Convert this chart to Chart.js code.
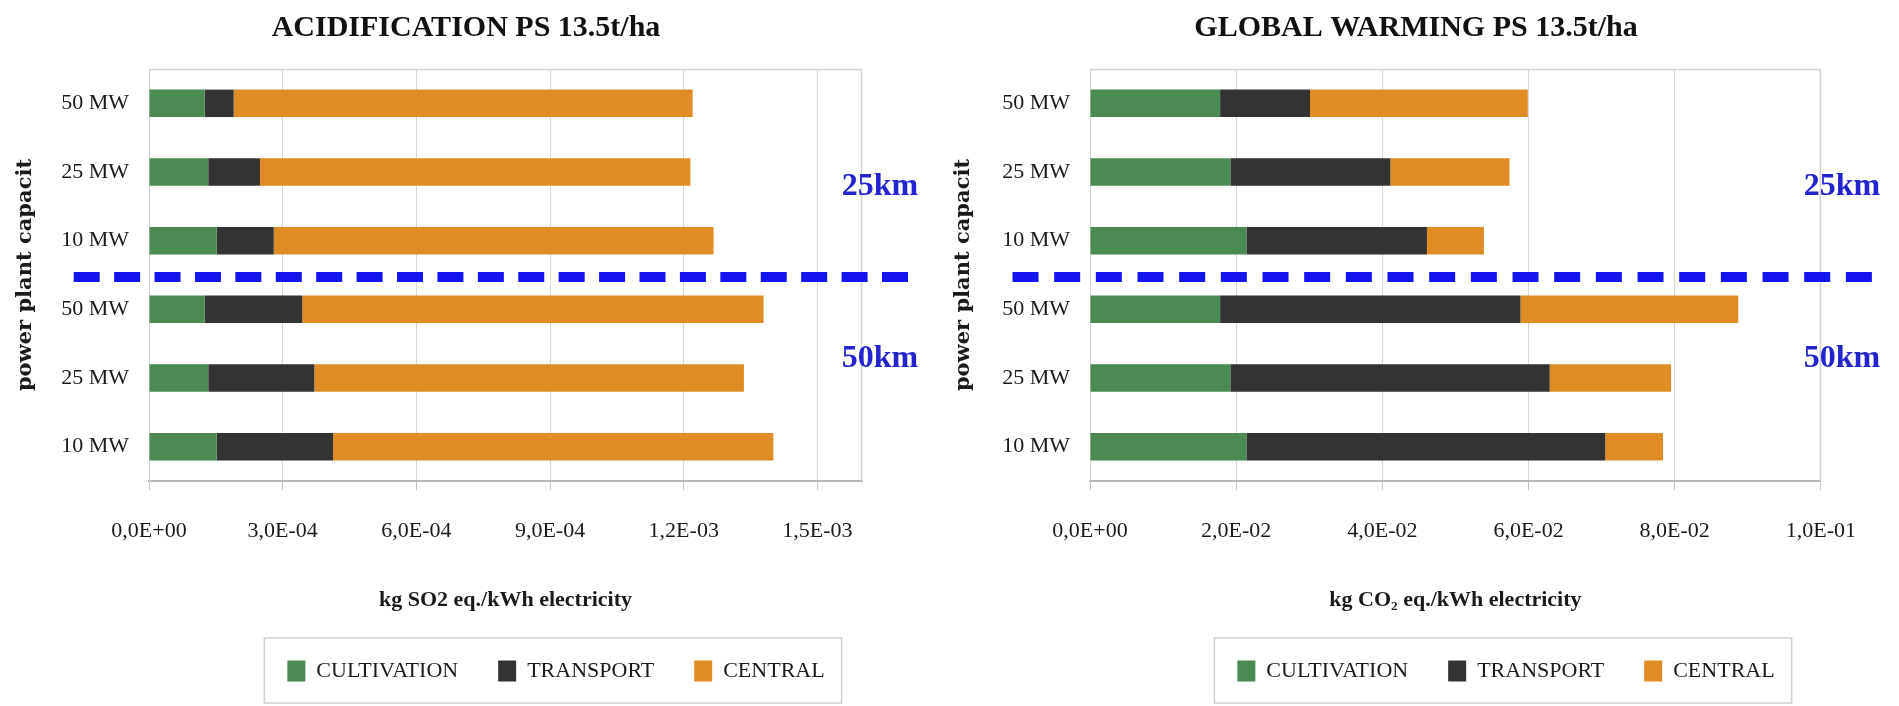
<!DOCTYPE html>
<html><head><meta charset="utf-8">
<script src="https://cdn.jsdelivr.net/npm/chart.js@4.4.1/dist/chart.umd.min.js"></script>
<style>
html,body{margin:0;padding:0;background:#fff;width:1899px;height:706px;overflow:hidden}
.box{position:absolute;top:0;height:706px}
canvas{display:block}
</style></head><body>
<div class="box" style="left:0;width:932px"><canvas id="c1" width="932" height="706"></canvas></div>
<div class="box" style="left:948px;width:936px"><canvas id="c2" width="936" height="706"></canvas></div>
<script>
// ---- data ----
const capacities = ['50 MW', '25 MW', '10 MW', '50 MW', '25 MW', '10 MW'];
const distanceGroups = ['25km', '50km'];
const seriesNames = ['CULTIVATION', 'TRANSPORT', 'CENTRAL'];

const acidCultivation = [1.25e-4, 1.33e-4, 1.52e-4, 1.25e-4, 1.33e-4, 1.52e-4];
const acidTransport   = [0.65e-4, 1.16e-4, 1.28e-4, 2.19e-4, 2.38e-4, 2.61e-4];
const acidCentral     = [1.030e-3, 0.966e-3, 0.987e-3, 1.035e-3, 0.964e-3, 0.988e-3];

const gwCultivation = [0.0178, 0.0192, 0.0214, 0.0178, 0.0192, 0.0214];
const gwTransport   = [0.0123, 0.0219, 0.0247, 0.0411, 0.0437, 0.0491];
const gwCentral     = [0.0298, 0.0163, 0.0078, 0.0298, 0.0166, 0.0079];

const acidTicks = [0, 3e-4, 6e-4, 9e-4, 1.2e-3, 1.5e-3];
const acidTickLabels = ['0,0E+00', '3,0E-04', '6,0E-04', '9,0E-04', '1,2E-03', '1,5E-03'];
const gwTicks = [0, 0.02, 0.04, 0.06, 0.08, 0.1];
const gwTickLabels = ['0,0E+00', '2,0E-02', '4,0E-02', '6,0E-02', '8,0E-02', '1,0E-01'];

const acidTitle = 'ACIDIFICATION PS 13.5t/ha';
const gwTitle = 'GLOBAL WARMING PS 13.5t/ha';
const acidAxisTitle = 'kg SO2 eq./kWh electricity';
const gwAxisTitle = 'kg CO\u2082 eq./kWh electricity';
const yAxisTitle = 'power plant capacit';

// ---- styles ----
const colors = ['#4b8a52', '#333333', '#e08c25'];
const SERIF = '"Liberation Serif", "Times New Roman", serif';
const TXT = '#1a1a1a';

const decor = {
  id: 'decor',
  afterLayout(chart, args, o) {
    const lg = chart.legend;
    if (lg) { lg.left += o.legendShift; lg.right += o.legendShift; }
  },
  beforeDatasetsDraw(chart, args, o) {
    const {ctx, chartArea: a} = chart;
    ctx.save();
    ctx.strokeStyle = '#d2d2d2'; ctx.lineWidth = 1.5;
    ctx.beginPath();
    ctx.moveTo(a.left, a.top + 0.5);
    ctx.lineTo(a.right - 0.5, a.top + 0.5);
    ctx.lineTo(a.right - 0.5, a.bottom);
    ctx.stroke();
    ctx.restore();
  },
  afterDraw(chart, args, o) {
    const {ctx, chartArea: a} = chart;
    const y = chart.scales.y;
    const step = y.getPixelForValue(1) - y.getPixelForValue(0);
    const yMid = (y.getPixelForValue(2) + y.getPixelForValue(3)) / 2 + 2;
    const xs = a.left - o.dashLeft, xe = a.right + o.dashRight;
    const dashLen = 26, nDash = 21;
    const gap = ((xe - xs) - nDash * dashLen) / (nDash - 1);
    ctx.save();
    ctx.strokeStyle = '#1414ee'; ctx.lineWidth = 10; ctx.setLineDash([dashLen, gap]);
    ctx.beginPath();
    ctx.moveTo(xs, yMid);
    ctx.lineTo(xe, yMid);
    ctx.stroke();
    ctx.setLineDash([]);
    ctx.fillStyle = '#2323cf';
    ctx.font = 'bold 32px ' + SERIF;
    ctx.textAlign = 'center'; ctx.textBaseline = 'middle';
    ctx.fillText(distanceGroups[0], a.right + o.labelDx, y.getPixelForValue(1) + 0.22 * step);
    ctx.fillText(distanceGroups[1], a.right + o.labelDx, y.getPixelForValue(4) - 0.28 * step);
    const lg = chart.legend;
    if (lg && lg.lineWidths) {
      const pad = lg.options.labels.padding;
      const total = lg.lineWidths[0];
      const x0 = (lg.left + pad + lg.right - total) / 2;
      const x1 = x0 + total - pad;
      ctx.strokeStyle = '#cfcfcf'; ctx.lineWidth = 1.5;
      ctx.strokeRect(x0 - 23, lg.top + 18, (x1 + 17) - (x0 - 23), 65);
    }
    ctx.restore();
  }
};

function makeChart(id, cfg) {
  return new Chart(document.getElementById(id), {
    type: 'bar',
    data: {
      labels: capacities,
      datasets: seriesNames.map((n, i) => ({
        label: n, data: cfg.series[i], backgroundColor: colors[i],
        borderWidth: 0, barPercentage: 0.4, categoryPercentage: 1
      }))
    },
    plugins: [decor],
    options: {
      responsive: false, animation: false, devicePixelRatio: 1,
      indexAxis: 'y',
      layout: {padding: {left: 0, right: 0, top: 0, bottom: 14}},
      scales: {
        x: {
          stacked: true, min: 0, max: cfg.max,
          afterBuildTicks: s => { s.ticks = cfg.ticks.map(v => ({value: v})); },
          afterFit: s => { s.height = 139; },
          ticks: {callback: (v, i) => cfg.tickLabels[i], font: {family: SERIF, size: 22}, color: TXT, padding: 28, maxRotation: 0, autoSkip: false},
          grid: {color: '#d6d6d6', tickLength: 9, tickColor: '#c4c4c4', lineWidth: 1},
          border: {color: '#b8b8b8', width: 2},
          title: {display: true, text: cfg.axisTitle, font: {family: SERIF, size: 22, weight: 'bold'}, color: TXT, padding: {top: 0, bottom: 6.6}}
        },
        y: {
          stacked: true,
          afterFit: s => { s.width = cfg.yWidth; },
          ticks: {font: {family: SERIF, size: 22}, color: TXT, padding: 20, autoSkip: false},
          grid: {display: false, drawTicks: false},
          border: {display: true, color: '#cfcfcf', width: 1},
          title: {display: true, text: yAxisTitle, font: {family: '"DejaVu Serif", serif', size: 21, weight: 'bold'}, color: TXT, padding: {top: cfg.yTitlePad, bottom: 0}}
        },
        y2: {
          position: 'right', display: true,
          afterFit: s => { s.width = cfg.rightGap; },
          ticks: {display: false}, grid: {display: false, drawTicks: false}, border: {display: false}
        }
      },
      plugins: {
        title: {display: true, text: cfg.title, font: {family: SERIF, size: 30, weight: 'bold'}, color: '#111', padding: {top: 10, bottom: 23}},
        legend: {
          position: 'bottom',
          labels: {boxWidth: 18, boxHeight: 21, padding: 40, font: {family: SERIF, size: 22}, color: TXT}
        },
        tooltip: {enabled: false},
        decor: {legendShift: 90, dashLeft: cfg.dashLeft, dashRight: cfg.dashRight, labelDx: cfg.labelDx}
      }
    }
  });
}

makeChart('c1', {
  series: [acidCultivation, acidTransport, acidCentral],
  max: 1.6e-3, ticks: acidTicks, tickLabels: acidTickLabels,
  title: acidTitle, axisTitle: acidAxisTitle,
  yWidth: 149, rightGap: 70, yTitlePad: 13.4,
  dashLeft: 75.3, dashRight: 46, labelDx: 18
});
makeChart('c2', {
  series: [gwCultivation, gwTransport, gwCentral],
  max: 0.1, ticks: gwTicks, tickLabels: gwTickLabels,
  title: gwTitle, axisTitle: gwAxisTitle,
  yWidth: 142, rightGap: 60, yTitlePad: 2.9,
  dashLeft: 77.5, dashRight: 51, labelDx: 21
});
</script>
</body></html>
